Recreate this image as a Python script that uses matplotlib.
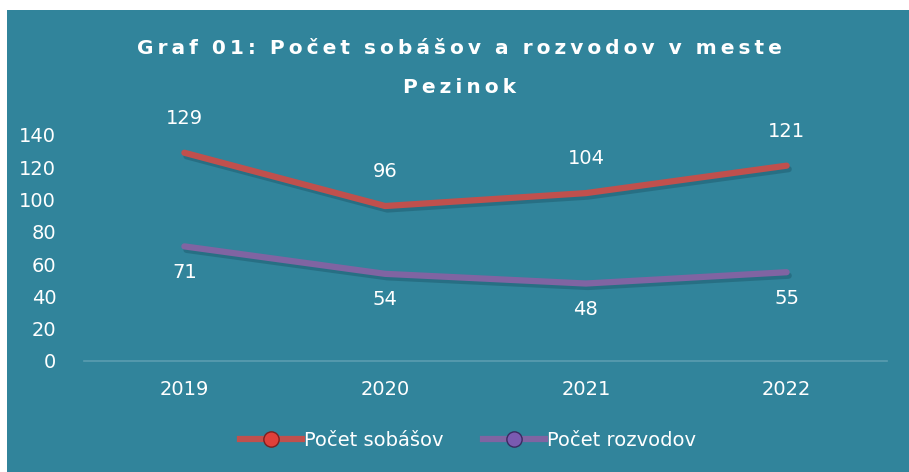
import matplotlib.pyplot as plt
import matplotlib.patheffects as pe
from matplotlib.lines import Line2D
from matplotlib.patches import Rectangle

years = ['2019', '2020', '2021', '2022']
sobase = [129, 96, 104, 121]
rozvody = [71, 54, 48, 55]

bg = '#31849B'
red = '#C0504D'
purple = '#8064A2'

fig = plt.figure(figsize=(9.09, 4.72), dpi=100, facecolor='white')
fig.patches.append(Rectangle((7/909, 0), 1, 1 - 10/472, transform=fig.transFigure,
                             facecolor=bg, edgecolor='none', zorder=-10))

ax = fig.add_axes([84/909, 1 - 361/472, (887 - 84)/909, (361 - 135)/472])
ax.set_facecolor('none')
x = range(len(years))

shadow = [pe.SimpleLineShadow(offset=(1.5, -2.5), shadow_color='#0A3340', alpha=0.25), pe.Normal()]
ax.plot(x, sobase, color=red, lw=4.5, solid_joinstyle='round', solid_capstyle='round',
        path_effects=shadow, zorder=3)
ax.plot(x, rozvody, color=purple, lw=4.5, solid_joinstyle='round', solid_capstyle='round',
        path_effects=shadow, zorder=3)

for i, v in enumerate(sobase):
    ax.annotate(str(v), (i, v), xytext=(0, 18), textcoords='offset points',
                ha='center', va='bottom', color='white', fontsize=14, annotation_clip=False)
for i, v in enumerate(rozvody):
    ax.annotate(str(v), (i, v), xytext=(0, -12), textcoords='offset points',
                ha='center', va='top', color='white', fontsize=14, annotation_clip=False)

ax.set_xlim(-0.5, len(years) - 0.5)
ax.set_ylim(0, 140)
ax.set_yticks(range(0, 141, 20))
ax.set_xticks(list(x))
ax.set_xticklabels(years)
ax.tick_params(colors='white', labelsize=14, length=0, pad=14)
ax.tick_params(axis='y', pad=20)
for s in ['top', 'right', 'left']:
    ax.spines[s].set_visible(False)
ax.spines['bottom'].set_color('#5A9DB0')
ax.spines['bottom'].set_linewidth(1.2)


def spaced(s):
    return '  '.join('\u2009'.join(w) for w in s.split(' '))


fig.text(0.505, 1 - 48/472, spaced('Graf 01: Počet sobášov a rozvodov v meste'),
         ha='center', va='center', color='white', fontsize=14.5, fontweight='bold')
fig.text(0.505, 1 - 87/472, spaced('Pezinok'),
         ha='center', va='center', color='white', fontsize=14.5, fontweight='bold')

handles = [
    Line2D([], [], color=red, lw=4.5, marker='o', markersize=11,
           markerfacecolor='#E0403A', markeredgecolor='#7A2020'),
    Line2D([], [], color=purple, lw=4.5, marker='o', markersize=11,
           markerfacecolor='#7A5AB0', markeredgecolor='#3A2A60'),
]
fig.legend(handles, ['Počet sobášov', 'Počet rozvodov'], loc='center',
           bbox_to_anchor=(0.515, 1 - 440/472), ncol=2, frameon=False,
           fontsize=14, labelcolor='white', handlelength=3.2, handletextpad=0.1,
           columnspacing=2.0)

fig.savefig('out.png', dpi=100, facecolor='white')
